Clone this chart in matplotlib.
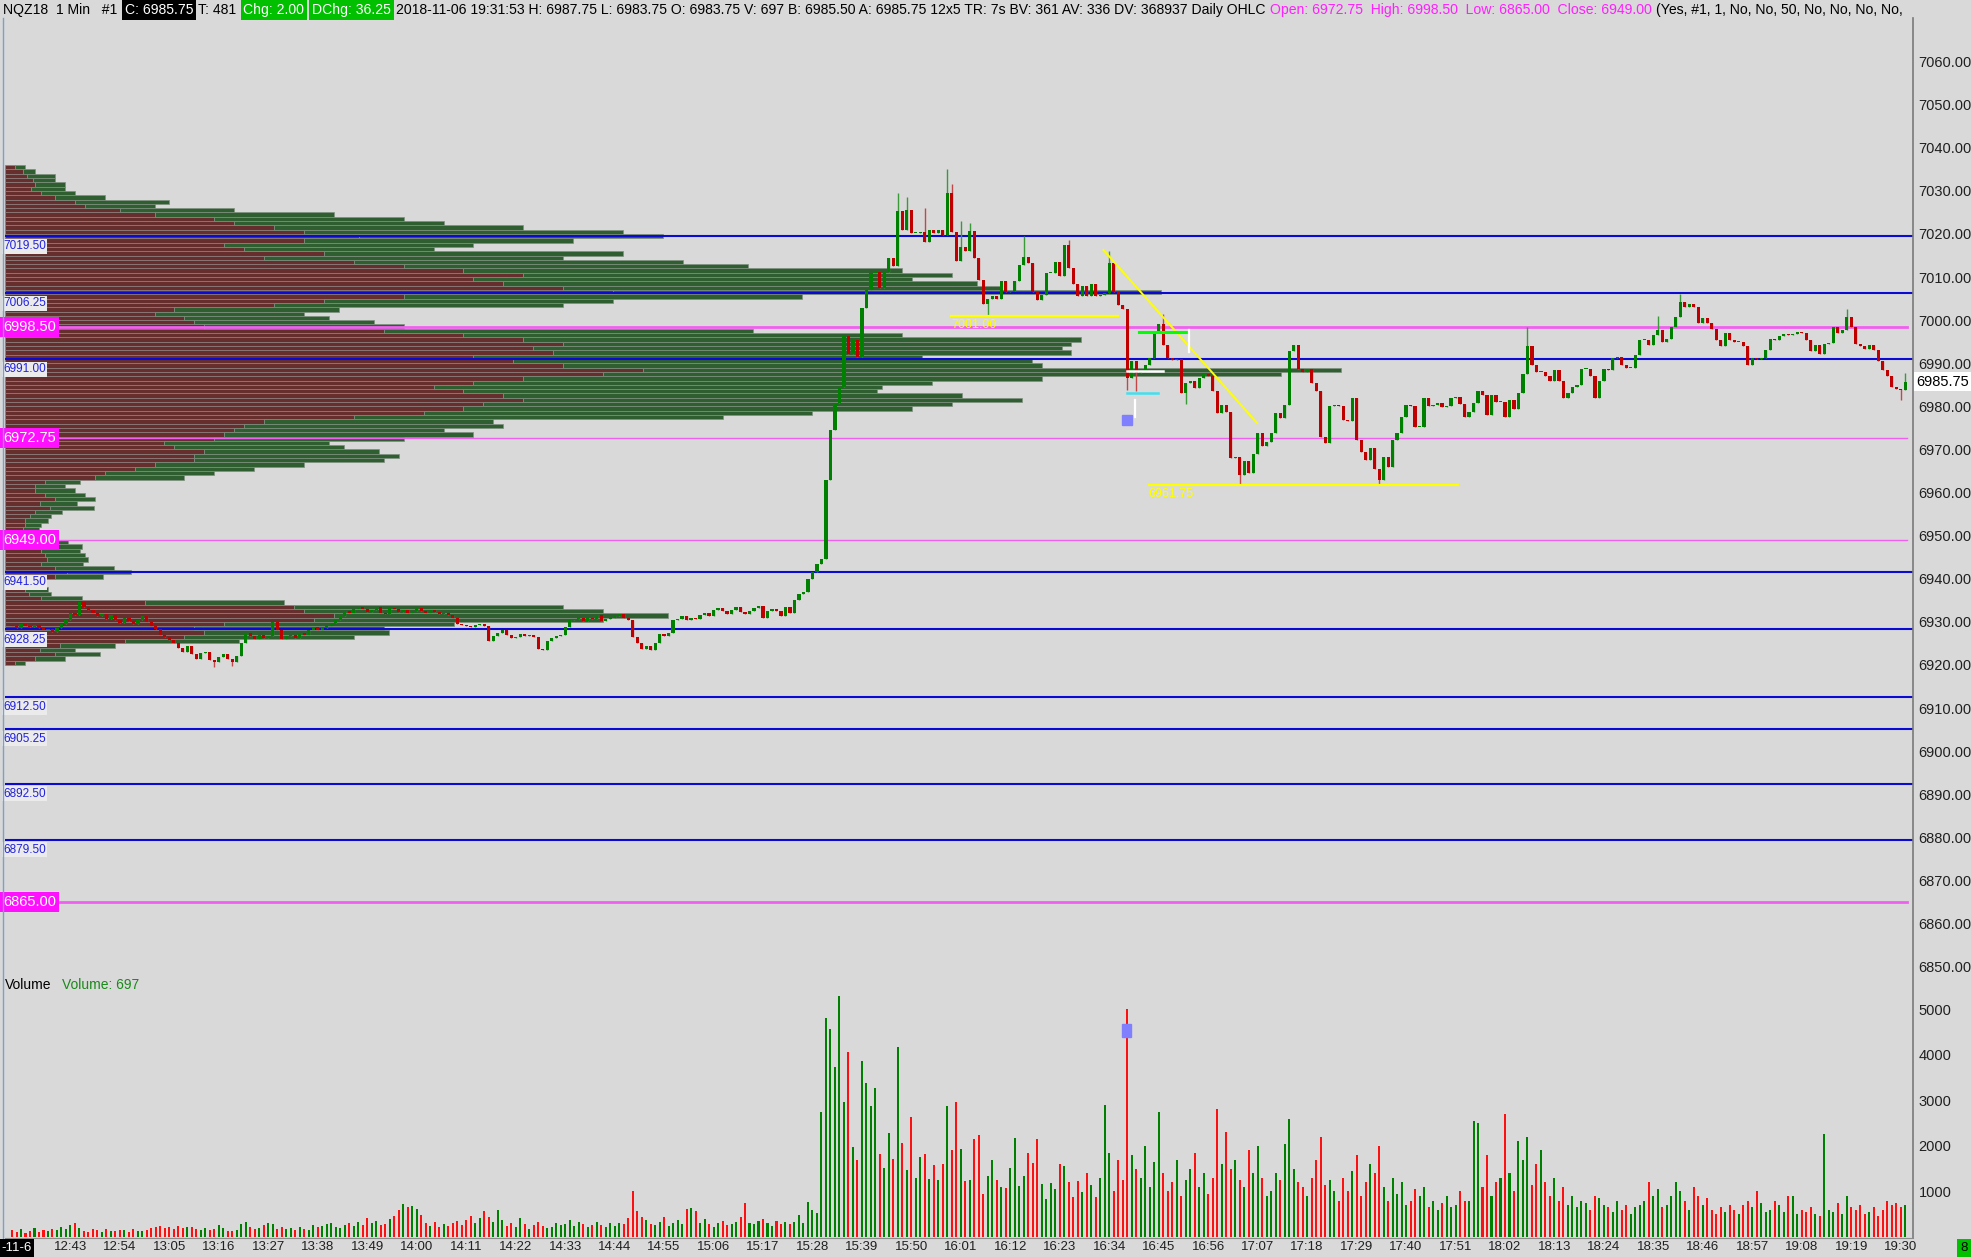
import numpy as np
import matplotlib.pyplot as plt
from matplotlib import font_manager
from matplotlib.lines import Line2D
from matplotlib.transforms import blended_transform_factory

W, H = 1971, 1257
BG = '#d9d9d9'

have = {f.name for f in font_manager.fontManager.ttflist}
SANS = 'Liberation Sans' if 'Liberation Sans' in have else 'DejaVu Sans'
NARROW = 'Liberation Sans Narrow' if 'Liberation Sans Narrow' in have else SANS
plt.rcParams['font.family'] = SANS

# ---- 1 min bars, NQZ18, 12:30 -> 19:31 ----
first_open = 6929.25
close_a = [  # 12:30 - 15:29
    6929.0, 6928.5, 6929.5, 6929.0, 6928.75, 6929.25, 6928.5, 6928.0, 6928.25, 6927.75,
    6928.5, 6929.5, 6930.5, 6932.0, 6931.5, 6934.5, 6933.5, 6932.75, 6932.0, 6931.25,
    6931.75, 6930.75, 6931.5, 6930.5, 6929.75, 6931.0, 6930.25, 6929.5, 6930.5, 6931.25,
    6930.0, 6929.0, 6928.25, 6927.0, 6926.5, 6925.75, 6925.0, 6924.0, 6923.0, 6924.5,
    6922.5, 6921.5, 6922.75, 6923.0, 6921.25, 6920.75, 6921.75, 6922.5, 6921.5, 6920.75,
    6922.0, 6925.0, 6927.5, 6926.75, 6926.0, 6927.0, 6926.25, 6926.75, 6930.0, 6928.0,
    6926.0, 6926.75, 6927.0, 6926.25, 6927.5, 6927.0, 6928.0, 6928.75, 6928.0, 6928.5,
    6929.0, 6929.75, 6930.5, 6931.25, 6932.5, 6932.0, 6933.0, 6933.5, 6933.0, 6932.25,
    6932.75, 6933.5, 6932.0, 6931.75, 6933.25, 6933.0, 6932.25, 6932.75, 6932.0, 6932.5,
    6933.25, 6932.5, 6932.0, 6932.75, 6932.25, 6931.75, 6932.0, 6931.5, 6931.0, 6929.5,
    6929.25, 6929.0, 6928.75, 6929.25, 6929.5, 6929.0, 6925.5, 6926.75, 6927.5, 6928.0,
    6927.0, 6926.25, 6926.5, 6927.25, 6926.75, 6927.0, 6926.5, 6923.75, 6923.5, 6925.5,
    6926.25, 6926.75, 6927.0, 6928.75, 6930.5, 6930.75, 6931.0, 6930.25, 6931.0, 6930.75,
    6931.5, 6930.25, 6930.75, 6931.0, 6931.25, 6931.75, 6931.0, 6930.5, 6926.5, 6925.0,
    6923.75, 6924.5, 6923.5, 6925.0, 6927.25, 6926.75, 6927.5, 6930.5, 6930.75, 6931.25,
    6930.5, 6931.0, 6930.75, 6931.5, 6932.0, 6931.25, 6932.75, 6933.25, 6932.5, 6931.75,
    6932.75, 6933.5, 6932.25, 6931.75, 6932.5, 6933.25, 6933.75, 6931.0, 6932.5, 6933.0,
    6932.5, 6931.25, 6933.5, 6932.0, 6935.0, 6936.5, 6937.0, 6940.0, 6941.5, 6943.5,
]
close_b = [  # 15:30 - 17:03
    6944.5,
    6963.0, 6974.5, 6980.75, 6984.5, 6996.25, 6992.25, 6995.5, 6991.5, 7002.75, 7007.0,
    7011.0, 7011.25, 7007.5, 7011.25, 7014.5, 7012.5, 7025.25, 7021.0, 7025.5, 7020.25,
    7020.25, 7020.5, 7018.25, 7021.0, 7020.25, 7021.0, 7019.75, 7029.5, 7020.5, 7013.75,
    7017.0, 7016.0, 7020.75, 7014.5, 7009.25, 7003.75, 7005.0, 7005.5, 7005.0, 7009.0,
    7006.5, 7006.75, 7009.0, 7012.75, 7014.75, 7013.25, 7006.5, 7004.75, 7005.75, 7011.0,
    7011.0, 7013.5, 7010.25, 7017.5, 7012.0, 7008.5, 7005.5, 7008.0, 7005.5, 7008.5,
    7005.5, 7005.75, 7006.25, 7013.25, 7006.5, 7003.5, 7002.5, 6986.5, 6990.5, 6987.75,
    6988.0, 6989.5, 6991.25, 6997.25, 6999.0, 6994.25, 6991.25, 6990.75, 6991.0, 6983.0,
    6985.5, 6986.0, 6984.25, 6986.5, 6987.5, 6987.0, 6983.5, 6978.5, 6980.25, 6978.75,
    6968.0, 6968.25, 6964.0,
]
close_c = [  # 17:04 - 19:31
    6967.25, 6964.5, 6969.0, 6973.75, 6970.75, 6971.75, 6973.75, 6978.5, 6977.25, 6980.25,
    6992.75, 6994.25, 6988.75, 6988.0, 6988.75, 6985.5, 6983.5, 6973.0, 6971.5, 6980.0,
    6980.25, 6980.0, 6976.75, 6976.5, 6982.0, 6972.25, 6969.5, 6967.5, 6970.25, 6965.5,
    6963.0, 6968.25, 6966.0, 6972.25, 6973.75, 6977.5, 6980.25, 6980.0, 6975.25, 6975.25,
    6982.0, 6980.0, 6980.25, 6980.75, 6979.75, 6980.0, 6982.0, 6982.25, 6980.5, 6977.5,
    6978.75, 6980.75, 6983.5, 6982.75, 6978.0, 6982.75, 6981.0, 6981.0, 6977.5, 6981.5,
    6979.5, 6983.0, 6987.5, 6994.0, 6989.5, 6988.0, 6988.0, 6987.0, 6986.0, 6988.5,
    6986.0, 6982.0, 6983.0, 6984.5, 6985.0, 6988.75, 6988.75, 6987.0, 6982.0, 6986.0,
    6988.75, 6988.5, 6991.25, 6991.5, 6989.5, 6989.0, 6989.0, 6992.0, 6995.5, 6995.5,
    6994.25, 6996.5, 6997.75, 6995.0, 6995.75, 6998.5, 7000.75, 7004.25, 7003.0, 7003.75,
    7003.0, 6999.25, 7000.5, 6999.25, 6998.0, 6995.5, 6994.0, 6997.0, 6995.5, 6995.0,
    6995.0, 6994.0, 6989.5, 6991.25, 6991.0, 6991.25, 6993.0, 6995.75, 6995.5, 6996.25,
    6996.75, 6996.5, 6996.75, 6997.25, 6997.0, 6995.5, 6992.75, 6994.25, 6992.25, 6994.5,
    6994.75, 6998.5, 6997.0, 6997.75, 7000.75, 6998.5, 6994.5, 6994.0, 6993.25, 6994.25,
    6993.0, 6990.5, 6988.5, 6987.0, 6984.5, 6984.0, 6983.75, 6985.75,
]
# bars whose wicks stand out (minute index -> price)
wick_high = {197: 7029.5, 199: 7028.5, 203: 7026.0, 208: 7035.0, 209: 7031.5, 211: 7023.0,
             213: 7022.5, 225: 7019.5, 235: 7018.5, 244: 7016.0, 256: 7001.5, 337: 6998.5,
             366: 7001.0, 371: 7006.0, 408: 7002.5, 421: 6987.75}
wick_low = {45: 6919.5, 49: 6919.75, 217: 7001.25, 248: 6983.75, 250: 6983.5, 261: 6980.5,
            273: 6961.75, 304: 6962.0, 420: 6981.5}

volume = [
    150, 120, 180, 90, 140, 200, 110, 160, 130, 170,
    150, 220, 180, 260, 300, 190, 140, 120, 170, 150,
    110, 180, 140, 130, 160, 150, 120, 170, 130, 140,
    160, 190, 210, 250, 200, 220, 180, 240, 190, 210,
    230, 180, 160, 200, 150, 170, 260, 190, 140, 130,
    160, 280, 320, 230, 170, 200, 260, 300, 290, 180,
    210, 170, 190, 160, 230, 180, 150, 260, 210, 240,
    280, 300, 220, 190, 260, 310, 240, 330, 270, 420,
    300, 350, 260, 280, 400, 460, 600, 720, 650, 690,
    620, 480, 300, 250, 330, 220, 280, 240, 300, 350,
    260, 380, 470, 300, 420, 560, 440, 320, 600, 380,
    250, 300, 230, 410, 290, 180, 270, 320, 240, 200,
    230, 300, 260, 280, 370, 250, 330, 290, 210, 260,
    340, 260, 220, 300, 250, 310, 280, 410, 1000, 570,
    430, 380, 290, 260, 330, 430, 250, 300, 380, 280,
    620, 640, 580, 300, 400, 280, 220, 310, 360, 260,
    290, 330, 430, 750, 300, 280, 360, 390, 300, 250,
    350, 280, 320, 290, 330, 490, 310, 760, 600, 520,
    2740, 4800, 4560, 3740, 5300, 2960, 4070, 1980, 1690, 3870,
    3380, 2880, 3260, 1820, 1510, 2280, 1710, 4180, 2060, 1470,
    2640, 1290, 1750, 1820, 1270, 1580, 1250, 1600, 2880, 1900,
    2960, 1930, 1220, 1250, 2150, 2240, 940, 1340, 1680, 1240,
    1090, 1070, 1510, 2170, 1120, 1330, 1850, 1620, 2160, 1160,
    840, 1190, 1050, 1600, 1560, 1200, 880, 1230, 990, 1400,
    1150, 870, 1300, 2900, 1850, 1020, 1700, 1250, 5000, 1800,
    1500, 1300, 2000, 1100, 1650, 2750, 1400, 1000, 1200, 1700,
    900, 1250, 1500, 1850, 1100, 1400, 950, 1300, 2800, 1600,
    2300, 1500, 1700, 1250, 1100, 1900, 1400, 2000, 1300, 900,
    1000, 1400, 1250, 2050, 2600, 1500, 1200, 1100, 900, 1300,
    1700, 2200, 1150, 1250, 1000, 800, 1300, 1000, 1450, 1800,
    900, 1200, 1600, 1400, 2000, 1100, 800, 1300, 950, 1200,
    700, 800, 1050, 900, 1100, 650, 800, 600, 750, 900,
    650, 700, 1000, 800, 800, 2550, 2500, 1100, 1800, 900,
    1200, 1300, 2700, 1400, 1000, 2100, 1700, 2200, 1150, 1600,
    1900, 1200, 900, 1300, 800, 1100, 700, 900, 650, 800,
    750, 600, 900, 850, 700, 650, 550, 800, 600, 700,
    500, 650, 700, 800, 1200, 900, 1050, 650, 700, 900,
    1200, 1000, 800, 600, 1100, 900, 700, 850, 600, 500,
    650, 550, 700, 600, 500, 700, 800, 650, 1000, 750,
    550, 600, 800, 700, 550, 900, 900, 500, 600, 550,
    650, 500, 450, 2250, 600, 550, 750, 500, 900, 650,
    600, 700, 500, 550, 650, 450, 600, 800, 700, 750,
    650, 697,
]

# ---- volume profile, 1 point bins from 7035 down to 6920 ----
vp_top = 7035
vp_total = [
    20, 30, 50, 50, 60, 60, 70, 100, 165, 150,
    230, 330, 400, 440, 520, 620, 660, 570, 470, 430,
    620, 560, 680, 745, 900, 950, 910, 975, 1000, 1160,
    800, 610, 560, 335, 300, 325, 370, 400, 750, 900,
    1080, 1070, 1060, 1070, 920, 1030, 1040, 1340, 1280, 1040,
    930, 880, 875, 960, 1020, 950, 910, 810, 720, 490,
    500, 440, 470, 400, 325, 340, 375, 395, 380, 300,
    250, 210, 180, 75, 60, 70, 80, 90, 72, 89,
    57, 46, 43, 36, 34, 40, 45, 63, 77, 75,
    80, 83, 78, 109, 126, 98, 30, 20, 43, 46,
    77, 280, 560, 600, 665, 600, 450, 380, 385, 350,
    235, 110, 70, 95, 60, 20,
]
vp_sell = [
    10, 18, 22, 28, 30, 26, 36, 50, 70, 80,
    115, 150, 210, 230, 270, 300, 355, 300, 220, 240,
    320, 260, 350, 400, 460, 520, 470, 500, 560, 610,
    400, 320, 270, 170, 150, 180, 190, 200, 380, 460,
    520, 560, 530, 550, 470, 510, 560, 640, 600, 520,
    470, 430, 460, 500, 520, 480, 460, 420, 350, 260,
    240, 230, 220, 210, 160, 170, 200, 190, 190, 150,
    130, 100, 90, 40, 30, 30, 40, 50, 35, 45,
    30, 25, 20, 20, 18, 20, 22, 30, 38, 36,
    40, 42, 36, 50, 62, 50, 15, 10, 20, 24,
    36, 140, 290, 300, 330, 310, 220, 190, 200, 180,
    120, 55, 35, 50, 30, 10,
]

# ---- study / drawing levels ----
blue_levels = [7019.50, 7006.25, 6991.00, 6941.50, 6928.25, 6912.50, 6905.25, 6892.50, 6879.50]
ohlc_levels = [6998.50, 6972.75, 6949.00, 6865.00]
ohlc_thick = [True, False, False, True]
yellow_hlines = [(208.8, 245.9, 7001.00), (252.8, 321.5, 6961.75)]
yellow_trend = [(242.7, 7016.3), (276.9, 6976.1)]

header_parts = [  # text, colour, box colour
    ('NQZ18  1 Min   #1', 'black', None),
    ('C: 6985.75', 'white', 'black'),
    ('T: 481', 'black', None),
    ('Chg: 2.00', 'white', '#00c000'),
    ('DChg: 36.25', 'white', '#00c000'),
    ('2018-11-06 19:31:53 H: 6987.75 L: 6983.75 O: 6983.75 V: 697 B: 6985.50 A: 6985.75 '
     '12x5 TR: 7s BV: 361 AV: 336 DV: 368937 Daily OHLC', 'black', None),
    ('Open: 6972.75  High: 6998.50  Low: 6865.00  Close: 6949.00', '#ff20ff', None),
    ('(Yes, #1, 1, No, No, 50, No, No, No, No,', 'black', None),
]

time_start = 12 * 60 + 30
n = len(close_a) + len(close_b) + len(close_c)

c = np.array(close_a + close_b + close_c)
o = np.r_[first_open, c[:-1]]
hi = np.maximum(o, c)
lo = np.minimum(o, c)
for k, v in wick_high.items():
    hi[k] = max(hi[k], v)
for k, v in wick_low.items():
    lo[k] = min(lo[k], v)
up = c >= o
x = np.arange(n)

fig = plt.figure(figsize=(W / 100, H / 100), dpi=100, facecolor=BG)
ax = fig.add_axes([5 / W, 1 - 974 / H, 1908 / W, 954 / H])
axv = fig.add_axes([5 / W, 1 - 1237 / H, 1908 / W, 262 / H], sharex=ax)
for a in (ax, axv):
    a.set_facecolor(BG)
    for s in a.spines.values():
        s.set_visible(False)
    a.yaxis.tick_right()
    a.tick_params(axis='y', length=0, pad=4, labelsize=10.5, labelcolor='#202020')
ax.set_xlim(-1.56, 422.73)
ax.set_ylim(6848.3, 7069.65)
axv.set_ylim(0, 5750)
ax.tick_params(axis='x', length=0, labelbottom=False)

ax.set_yticks(np.arange(6850, 7061, 10))
ax.set_yticklabels([f'{v:.2f}' for v in np.arange(6850, 7061, 10)])
axv.set_yticks([1000, 2000, 3000, 4000, 5000])
axv.set_yticklabels(['1000', '2000', '3000', '4000', '5000'])

ticks = np.arange(13, n, 11)
axv.set_xticks(ticks)
axv.set_xticklabels([f'{(time_start + t) // 60}:{(time_start + t) % 60:02d}' for t in ticks])
axv.tick_params(axis='x', length=0, pad=3, labelsize=9.5, labelcolor='#202020')

# volume profile (drawn under the bars)
x0 = ax.get_xlim()[0]
span = ax.get_xlim()[1] - x0
scale = 0.7 * span / max(vp_total)
lv = vp_top - np.arange(len(vp_total)) + 0.5
tot = np.array(vp_total) * scale
sell = np.array(vp_sell) * scale
ax.barh(lv, sell, left=x0, height=1.0, color='#672e2e', edgecolor='#8e8080', linewidth=0.5, zorder=2)
ax.barh(lv, tot - sell, left=x0 + sell, height=1.0, color='#2f5f31', edgecolor='#7f8f7f',
        linewidth=0.5, zorder=2)

# level lines
for lvl in blue_levels:
    ax.axhline(lvl, color='#0a0ad2', lw=1.5, zorder=3)
for lvl, thick in zip(ohlc_levels, ohlc_thick):
    ax.plot([x0, 421.5], [lvl, lvl], color='#f060f0', lw=2.0 if thick else 1.0, zorder=3)

for x1, x2, lvl in yellow_hlines:
    ax.plot([x1, x2], [lvl, lvl], color='#ffff00', lw=1.6, zorder=5)
    ax.annotate(f'{lvl:.2f}', (x1, lvl), xytext=(0, -2), textcoords='offset points',
                va='top', ha='left', color='#ffff00', fontsize=9, family=NARROW, zorder=6)
ax.plot([p[0] for p in yellow_trend], [p[1] for p in yellow_trend], color='#ffff00', lw=1.4, zorder=5)

# drawing marks around the 16:38 flush
ax.plot([250.6, 261.5], [6997.3, 6997.3], color='#00ff00', lw=2.2, zorder=5)
ax.plot([261.8, 261.8], [6997.7, 6992.7], color='white', lw=1.6, zorder=5)
ax.plot([247.9, 255.9], [6988.1, 6988.1], color='white', lw=1.8, zorder=5)
ax.plot([247.9, 254.9], [6983.0, 6983.0], color='#40e0f0', lw=1.8, zorder=5)
ax.plot([249.7, 249.7], [6981.5, 6977.6], color='white', lw=1.6, zorder=5)
ax.add_patch(plt.Rectangle((246.8, 6975.7), 2.2, 2.3, color='#8080ff', zorder=5))

# candles
col = np.where(up, '#008000', '#c00000')
wcol = np.where(up, '#3a9a3a', '#c04848')
ax.vlines(x, lo, hi, colors=wcol, lw=1.0, zorder=4)
body = np.maximum(np.abs(c - o), 0.25)
ax.bar(x, body, bottom=np.minimum(o, c), width=0.7, color=col, linewidth=0, zorder=4)

# volume
vcol = np.where(up, '#008000', '#ff1010')
axv.bar(x, volume, width=0.45, color=vcol, linewidth=0)
axv.add_patch(plt.Rectangle((246.9, 4400), 2.0, 280, color='#8080ff', zorder=5))

# level labels at the left edge
tf = blended_transform_factory(fig.transFigure, ax.transData)
for lvl in blue_levels:
    ax.annotate(f'{lvl:.2f}', (3 / W, lvl), xycoords=tf, xytext=(0, -3), textcoords='offset points',
                va='top', ha='left', color='#2020e0', fontsize=8.5, family=NARROW, zorder=7,
                bbox=dict(boxstyle='square,pad=0.12', fc='#ebebeb', ec='none'))
for lvl in ohlc_levels:
    ax.text(3 / W, lvl, f'{lvl:.2f}', transform=tf, va='center', ha='left', color='white',
            fontsize=10.5, family=NARROW, zorder=7,
            bbox=dict(boxstyle='square,pad=0.2', fc='#ff10ff', ec='none'))

# current price on the scale
ax.text(1916 / W, c[-1], f'{c[-1]:.2f}', transform=tf, va='center', ha='left', fontsize=10.5,
        color='black', bbox=dict(boxstyle='square,pad=0.15', fc='white', ec='none'))

# frame lines
fig.add_artist(Line2D([1913 / W, 1913 / W], [1 - 18 / H, 1 - 1238 / H], color='#7a7a7a', lw=1.2))
fig.add_artist(Line2D([3 / W, 3 / W], [1 - 18 / H, 1 - 1238 / H], color='#7f9fc8', lw=1.0))
fig.add_artist(Line2D([5 / W, 1913 / W], [1 - 1237.5 / H, 1 - 1237.5 / H], color='#8c8c8c', lw=0.8))

# header: laid out left to right, scaled so that it spans the chart width
renderer = fig.canvas.get_renderer()
hy = 1 - 10 / H


def lay_header(size, draw):
    xpos, gap = 3.0, size * 0.45
    made = []
    for txt, color, box in header_parts:
        pad = 0.2 * size * 100 / 72 if box else 0.0
        kw = dict(fontsize=size, va='center', ha='left', color=color)
        if box:
            kw['bbox'] = dict(boxstyle='square,pad=0.2', fc=box, ec='none')
        t = fig.text((xpos + pad) / W, hy, txt, **kw)
        wpx = t.get_window_extent(renderer).width
        made.append(t)
        xpos += wpx + 2 * pad + (2 if box else gap)
    if not draw:
        for t in made:
            t.remove()
    return xpos


hsize = 10 * (1908 - 3) / (lay_header(10, False) - 3)
lay_header(hsize, True)

fig.text(5 / W, 1 - 985 / H, 'Volume', color='black', fontsize=10, va='center', ha='left')
fig.text(62 / W, 1 - 985 / H, 'Volume: 697', color='#1a8a1a', fontsize=10, va='center', ha='left')

fig.text(1 / W, 1 - 1248 / H, '-11-6', color='white', fontsize=9.5, va='center', ha='left', family=NARROW,
         bbox=dict(boxstyle='square,pad=0.2', fc='black', ec='none'))
fig.text(1960 / W, 1 - 1248 / H, '8', color='black', fontsize=9.5, va='center', ha='left',
         bbox=dict(boxstyle='square,pad=0.25', fc='#00c000', ec='none'))

fig.savefig('out.png', dpi=100, facecolor=BG)
